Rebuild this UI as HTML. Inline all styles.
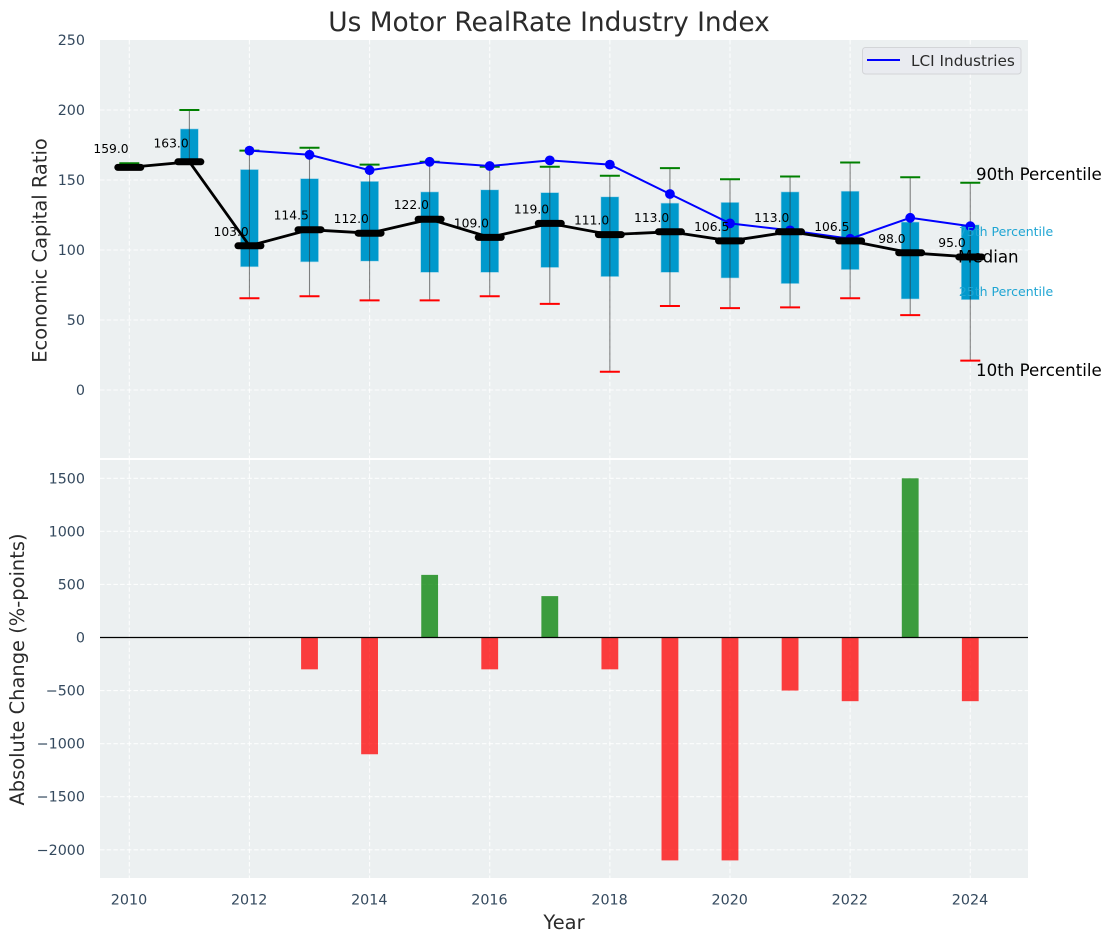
<!DOCTYPE html>
<html lang="en">
<head>
<meta charset="utf-8">
<title>Us Motor RealRate Industry Index</title>
<style>
html,body{margin:0;padding:0;background:#fff;}
svg{display:block;font-family:"DejaVu Sans","Liberation Sans",sans-serif;}
</style>
</head>
<body>
<svg id="chart" xmlns="http://www.w3.org/2000/svg" width="1111" height="942" viewBox="0 0 1111 942">
  <rect x="0" y="0" width="1111" height="942" fill="#ffffff"/>
  <rect x="100" y="40" width="928" height="419" fill="#ecf0f1"/>
  <rect x="100" y="460" width="928" height="418" fill="#ecf0f1"/>
  <line x1="100" x2="1028" y1="459" y2="459" stroke="#ffffff" stroke-width="2"/>
  <g id="grid"></g>
  <g id="bars"></g>
  <line id="zero-line" x1="100" x2="1028" stroke="#000000" stroke-width="1.2"/>
  <g id="boxes"></g>
  <g id="company"></g>
  <g id="median"></g>
  <g id="ticks" font-size="14.3" fill="#34495e"></g>

  <text x="549" y="31" font-size="26.4" text-anchor="middle" fill="#2b2b2b">Us Motor RealRate Industry Index</text>
  <text transform="translate(46.5 250.5) rotate(-90)" font-size="19.44" text-anchor="middle" fill="#2b2b2b">Economic Capital Ratio</text>
  <text transform="translate(24 669.5) rotate(-90)" font-size="19.44" text-anchor="middle" fill="#2b2b2b">Absolute Change (%-points)</text>
  <text x="564" y="929" font-size="19.44" text-anchor="middle" fill="#2b2b2b">Year</text>

  <text x="976" y="180" font-size="16.67" fill="#000000">90th Percentile</text>
  <text x="1006" y="236" font-size="12.5" text-anchor="middle" fill="#1fa5d3">75th Percentile</text>
  <text x="958" y="262.500" font-size="16.67" fill="#000000">Median</text>
  <text x="1006" y="296" font-size="12.5" text-anchor="middle" fill="#1fa5d3">25th Percentile</text>
  <text x="976" y="376" font-size="16.67" fill="#000000">10th Percentile</text>

  <g>
    <rect x="862.500" y="47.500" width="158.500" height="26.500" rx="3" fill="#e9ebf0" stroke="#d3d5d8" stroke-width="1"/>
    <line x1="867" x2="900" y1="60" y2="60" stroke="#0000ff" stroke-width="2"/>
    <text x="911" y="66" font-size="15.28" fill="#2b2b2b">LCI Industries</text>
  </g>
</svg>
<script>
const years = [2010,2011,2012,2013,2014,2015,2016,2017,2018,2019,2020,2021,2022,2023,2024];
const p90 = [162,200,171,173,161,163,159.5,159.5,153,158.5,150.5,152.5,162.5,152,148];
const q3 = [159,186.5,157.5,151,149,141.5,143,141,138,133.5,134,141.5,142,120,118];
const medians = [159,163,103,114.5,112,122,109,119,111,113,106.5,113,106.5,98,95];
const q1 = [159,163,88,91.5,92,84,84,87.5,81,84,80,76,86,65,64.5];
const p10 = [159,163,65.5,67,64,64,67,61.5,13,60,58.5,59,65.5,53.5,21];
const medianLabels = ["159.0","163.0","103.0","114.5","112.0","122.0","109.0","119.0","111.0","113.0","106.5","113.0","106.5","98.0","95.0"];
const companyYears = [2012,2013,2014,2015,2016,2017,2018,2019,2020,2021,2022,2023,2024];
const companyValues = [171,168,157,163,160,164,161,140,119,114,108,123,117];
const changeYears = [2013,2014,2015,2016,2017,2018,2019,2020,2021,2022,2023,2024];
const changeValues = [-300,-1100,590,-300,390,-300,-2100,-2100,-500,-600,1500,-600];
const xTicks = [2010,2012,2014,2016,2018,2020,2022,2024];
const topTicks = [0,50,100,150,200,250];
const bottomTicks = [-2000,-1500,-1000,-500,0,500,1000,1500];

const NS = "http://www.w3.org/2000/svg";
const xScale = function (v) { return 129.3 + (v - 2010) * 60.07; };
const topY = function (v) { return 390 - v * 1.4; };
const bottomY = function (v) { return 637.5 - v * 0.10614; };
const unitWidth = function (w) { return w * 60.07; };

function make(tag, attrs, parent) {
  const el = document.createElementNS(NS, tag);
  Object.keys(attrs).forEach(function (k) { el.setAttribute(k, attrs[k]); });
  parent.appendChild(el);
  return el;
}

const gridG = document.getElementById("grid");
const barsG = document.getElementById("bars");
const boxesG = document.getElementById("boxes");
const companyG = document.getElementById("company");
const medianG = document.getElementById("median");
const ticksG = document.getElementById("ticks");

const gridStyle = { stroke: "#ffffff", "stroke-width": 1.1, "stroke-dasharray": "4.5 2.2", "stroke-opacity": 0.85 };

xTicks.forEach(function (t) {
  const x = xScale(t);
  const upper = make("line", Object.assign({ x1: x, x2: x, y1: 40, y2: 458 }, gridStyle), gridG);
  
  
  const lower = make("line", Object.assign({ x1: x, x2: x, y1: 460, y2: 878 }, gridStyle), gridG);
  
  
  const label = make("text", { x: x - 0.3, y: 904.5, "text-anchor": "middle" }, ticksG);
  label.textContent = String(t);
  
  
});

topTicks.forEach(function (t) {
  const y = topY(t);
  if (t < 250) {
    const line = make("line", Object.assign({ x1: 100, x2: 1028, y1: y, y2: y }, gridStyle), gridG);
    
    
  }
  const label = make("text", { x: 85, y: y + 5, "text-anchor": "end" }, ticksG);
  label.textContent = String(t);
  
  
});

bottomTicks.forEach(function (t) {
  const y = bottomY(t);
  const line = make("line", Object.assign({ x1: 100, x2: 1028, y1: y, y2: y }, gridStyle), gridG);
  
  
  const label = make("text", { x: 85, y: y + 5, "text-anchor": "end" }, ticksG);
  label.textContent = String(t).replace("-", "\u2212");
  
  
});

const zeroLine = document.getElementById("zero-line");
zeroLine.setAttribute("y1", bottomY(0));
zeroLine.setAttribute("y2", bottomY(0));

changeYears.forEach(function (yr, i) {
  const v = changeValues[i];
  const w = unitWidth(0.28);
  const y0 = bottomY(0);
  const y1 = bottomY(v);
  const bar = make("rect", {
    x: xScale(yr) - w / 2,
    y: Math.min(y0, y1),
    width: w,
    height: Math.abs(y1 - y0),
    fill: v >= 0 ? "#008000" : "#ff0000",
    "fill-opacity": 0.75
  }, barsG);
  
  
});

years.forEach(function (yr, i) {
  const x = xScale(yr);
  const w = unitWidth(0.3);
  const box = make("rect", {
    x: x - w / 2,
    y: topY(q3[i]),
    width: w,
    height: topY(q1[i]) - topY(q3[i]),
    fill: "#0099cc",
    stroke: "#a8d8ea",
    "stroke-width": 0.6
  }, boxesG);
  
  
  const whisker = make("line", {
    x1: x, x2: x, y1: topY(p90[i]), y2: topY(p10[i]),
    stroke: "#333333", "stroke-width": 1.1, "stroke-opacity": 0.6
  }, boxesG);
  
  
  const capTop = make("line", {
    x1: x - 10, x2: x + 10, y1: topY(p90[i]), y2: topY(p90[i]),
    stroke: "#008000", "stroke-width": 2
  }, boxesG);
  
  
  const capBottom = make("line", {
    x1: x - 10, x2: x + 10, y1: topY(p10[i]), y2: topY(p10[i]),
    stroke: "#ff0000", "stroke-width": 2
  }, boxesG);
  
  
});

const companyLine = make("polyline", {
  points: companyYears.map(function (yr, i) { return xScale(yr) + "," + topY(companyValues[i]); }).join(" "),
  fill: "none", stroke: "#0000ff", "stroke-width": 2
}, companyG);



companyYears.forEach(function (yr, i) {
  const dot = make("circle", { cx: xScale(yr), cy: topY(companyValues[i]), r: 4.9, fill: "#0000ff" }, companyG);
  
  
});

const medianLine = make("polyline", {
  points: years.map(function (yr, i) { return xScale(yr) + "," + topY(medians[i]); }).join(" "),
  fill: "none", stroke: "#000000", "stroke-width": 2.8
}, medianG);



years.forEach(function (yr, i) {
  const x = xScale(yr);
  const y = topY(medians[i]);
  const mark = make("line", {
    x1: x - 11.5, x2: x + 11.5, y1: y, y2: y,
    stroke: "#000000", "stroke-width": 7, "stroke-linecap": "round"
  }, medianG);
  
  
  const label = make("text", {
    x: x - 18.3,
    y: y - (medians[i] >= 150 ? 14.5 : 10),
    "font-size": 12.3,
    "text-anchor": "middle",
    fill: "#000000"
  }, medianG);
  label.textContent = medianLabels[i];
  
  
});
</script>
</body>
</html>
